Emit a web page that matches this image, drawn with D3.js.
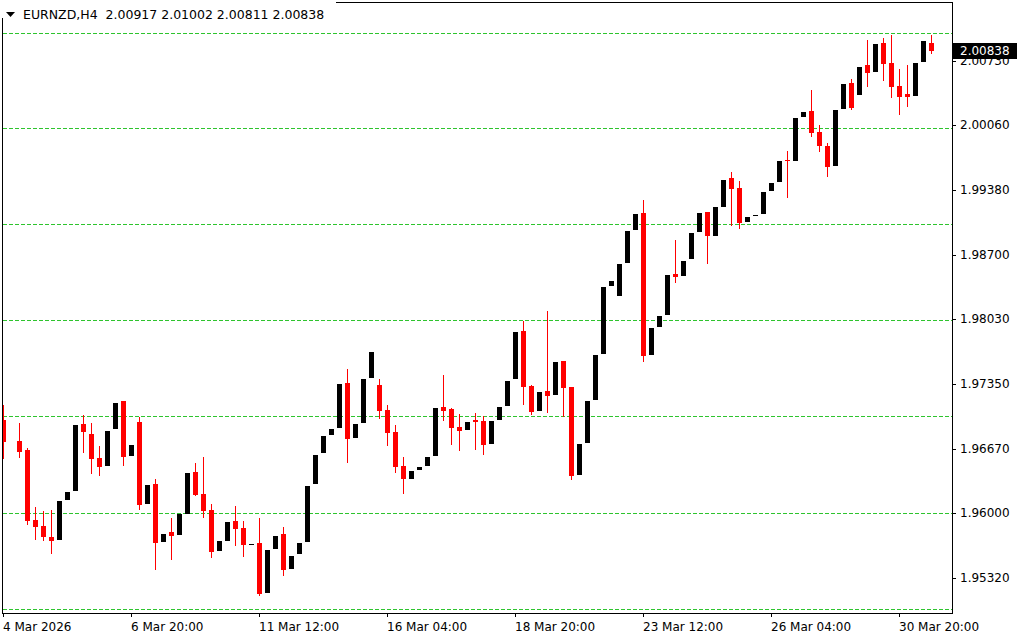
<!DOCTYPE html>
<html>
<head>
<meta charset="utf-8">
<script src="https://cdn.jsdelivr.net/npm/d3@7/dist/d3.min.js"></script>
<style>
  html, body { margin: 0; padding: 0; background: #ffffff; }
  svg { display: block; }
  text { font-family: "DejaVu Sans", Verdana, sans-serif; font-size: 12px; fill: #000; }
</style>
</head>
<body>
<svg id="chart" width="1024" height="640"></svg>
<script>
// ---- data (EURNZD H4), bar index 0..116, null = no bar ----
const opens = [1.96971,null,1.96751,1.96657,1.95924,1.95861,1.95746,1.95717,1.96136,1.96231,
1.96929,1.96824,1.96576,1.96492,1.96880,1.97170,1.96597,1.96950,1.96094,1.96301,
1.95696,1.95798,1.95770,1.95990,1.96426,1.96196,1.96028,1.95602,1.95707,1.95913,
1.95840,1.95665,1.95683,1.95162,1.95623,1.95777,1.95414,1.95571,1.95696,1.96304,
1.96629,1.96817,1.96890,1.97359,1.96786,1.96943,1.97414,1.97338,1.97076,1.96845,
1.96489,1.96356,1.96450,1.96489,1.96597,1.97107,1.97086,1.96898,1.96870,1.96971,
1.96961,1.96723,1.96974,1.97121,1.97404,1.97903,1.97327,1.97069,1.97275,1.97236,
1.97589,1.97317,1.96398,1.96733,1.97184,1.97666,1.98378,1.98273,1.98619,1.98965,
1.99139,1.97655,1.97948,1.98074,1.98500,1.98483,1.98661,1.98944,1.99150,1.98902,
1.99205,1.99506,1.99401,1.99048,1.99110,1.99132,1.99373,1.99467,1.99695,1.99687,
2.00148,2.00208,1.99988,1.99841,1.99635,2.00232,2.00501,2.00379,2.00690,2.00620,
2.00920,2.00711,2.00470,2.00386,2.00368,2.00724,2.00917];
const highs = [1.97128,null,1.96940,1.96675,1.96060,1.96018,1.96028,1.96123,1.96217,1.96919,
1.97023,1.96940,1.96699,1.96856,1.97149,1.97170,1.96709,1.97003,1.96290,1.96353,
1.95777,1.95945,1.95986,1.96416,1.96521,1.96587,1.96091,1.95704,1.95903,1.96070,
1.95916,1.95672,1.95945,1.95609,1.95756,1.95850,1.95547,1.95683,1.96280,1.96605,
1.96804,1.96877,1.97348,1.97505,1.96929,1.97401,1.97683,1.97401,1.97128,1.96919,
1.96587,1.96437,1.96479,1.96584,1.97097,1.97442,1.97097,1.97034,1.96950,1.97044,
1.97013,1.96961,1.97107,1.97380,1.97893,1.98008,1.97338,1.97264,1.98113,1.97579,
1.97589,1.97317,1.96720,1.97170,1.97652,1.98364,1.98427,1.98605,1.98951,1.99129,
1.99276,1.97935,1.98061,1.98490,1.98857,1.98637,1.98930,1.99139,1.99150,1.99202,
1.99485,1.99569,1.99475,1.99098,1.99117,1.99359,1.99454,1.99684,1.99789,2.00135,
2.00197,2.00428,2.00061,1.99873,2.00218,2.00491,2.00543,2.00669,2.00952,2.00910,
2.00973,2.01004,2.00648,2.00690,2.00711,2.00941,2.01002];
const lows = [1.96570,null,1.96587,1.95882,1.95725,1.95714,1.95581,1.95717,1.96136,1.96231,
1.96639,1.96419,1.96398,1.96492,1.96880,1.96503,1.96597,1.96042,1.96094,1.95414,
1.95696,1.95518,1.95770,1.95990,1.96189,1.95958,1.95539,1.95602,1.95707,1.95665,
1.95550,1.95665,1.95138,1.95162,1.95623,1.95351,1.95414,1.95571,1.95696,1.96304,
1.96629,1.96817,1.96890,1.96534,1.96786,1.96943,1.97414,1.96995,1.96712,1.96430,
1.96210,1.96356,1.96450,1.96489,1.96597,1.96968,1.96723,1.96660,1.96870,1.96671,
1.96618,1.96723,1.96974,1.97121,1.97404,1.97142,1.97037,1.97069,1.97058,1.97236,
1.97016,1.96356,1.96398,1.96733,1.97184,1.97666,1.98378,1.98273,1.98619,1.98965,
1.97592,1.97655,1.97948,1.98074,1.98420,1.98483,1.98661,1.98944,1.98619,1.98902,
1.99205,1.99017,1.98985,1.99048,1.99110,1.99132,1.99373,1.99467,1.99310,1.99687,
2.00148,1.99949,1.99792,1.99530,1.99635,2.00232,2.00232,2.00379,2.00473,2.00620,
2.00536,2.00358,2.00180,2.00263,2.00368,2.00724,2.00811];
const closes = [1.96744,null,1.96639,1.95916,1.95853,1.95749,1.95707,1.96123,1.96217,1.96919,
1.96849,1.96566,1.96482,1.96856,1.97149,1.96587,1.96709,1.96084,1.96290,1.95686,
1.95777,1.95759,1.95986,1.96416,1.96189,1.96015,1.95592,1.95704,1.95903,1.95832,
1.95665,1.95672,1.95152,1.95609,1.95756,1.95403,1.95547,1.95683,1.96280,1.96605,
1.96804,1.96877,1.97348,1.96775,1.96929,1.97401,1.97683,1.97069,1.96838,1.96482,
1.96356,1.96437,1.96479,1.96584,1.97097,1.97069,1.96890,1.96859,1.96950,1.96953,
1.96712,1.96961,1.97107,1.97380,1.97893,1.97320,1.97058,1.97264,1.97226,1.97579,
1.97309,1.96388,1.96720,1.97170,1.97652,1.98364,1.98427,1.98605,1.98951,1.99129,
1.97645,1.97935,1.98061,1.98490,1.98472,1.98637,1.98930,1.99139,1.98902,1.99202,
1.99485,1.99394,1.99038,1.99098,1.99117,1.99359,1.99454,1.99684,1.99684,2.00135,
2.00197,1.99981,1.99844,1.99624,2.00218,2.00491,2.00242,2.00669,2.00609,2.00910,
2.00703,2.00462,2.00358,2.00358,2.00711,2.00941,2.00838];

const priceTicks = [2.00730, 2.00060, 1.99380, 1.98700, 1.98030, 1.97350, 1.96670, 1.96000, 1.95320];
const gridPrices = [2.01025, 2.00030, 1.99024, 1.98019, 1.97008, 1.95997, 1.94991];
const timeTickIndex = [0, 16, 32, 48, 64, 80, 96, 112];
const timeTickLabels = ["4 Mar 2026", "6 Mar 20:00", "11 Mar 12:00", "16 Mar 04:00",
                        "18 Mar 20:00", "23 Mar 12:00", "26 Mar 04:00", "30 Mar 20:00"];
const symbolLabel = "EURNZD,H4";
const lastBar = [2.00917, 2.01002, 2.00811, 2.00838]; // O H L C
const lastPrice = 2.00838;

// ---- layout ----
const W = 1024, H = 640;
const plot = { left: 2, top: 2, right: 952, bottom: 613 };

const svg = d3.select("#chart");
svg.append("rect").attr("width", W).attr("height", H).attr("fill", "#fff");

const x = d3.scaleLinear().domain([0, opens.length - 1]).range([3, 931]);
const y = d3.scaleLinear().domain([1.949496, 2.013706]).range([plot.bottom, 0]);

const bars = opens.map((o, i) => ({ i, o, h: highs[i], l: lows[i], c: closes[i] }))
                  .filter(d => d.o !== null);

svg.append("clipPath").attr("id", "clip")
  .append("rect").attr("x", plot.left).attr("y", plot.top)
  .attr("width", plot.right - plot.left).attr("height", plot.bottom - plot.top);

// grid
svg.append("g").selectAll("line").data(gridPrices).join("line")
  .attr("x1", plot.left + 1).attr("x2", plot.right)
  .attr("y1", d => Math.round(y(d)) + 0.5).attr("y2", d => Math.round(y(d)) + 0.5)
  .attr("stroke", "#2ec42e").attr("stroke-width", 1).attr("stroke-dasharray", "4,2");

// candles
const gC = svg.append("g").attr("clip-path", "url(#clip)");
const bull = d => d.c >= d.o;
gC.selectAll("rect.wick").data(bars).join("rect").attr("class", "wick")
  .attr("x", d => Math.round(x(d.i)))
  .attr("width", 1)
  .attr("y", d => Math.round(y(d.h)))
  .attr("height", d => Math.max(1, Math.round(y(d.l)) - Math.round(y(d.h)) + 1))
  .attr("fill", d => bull(d) ? "#ffffff" : "#ff0000");
gC.selectAll("rect.body").data(bars).join("rect").attr("class", "body")
  .attr("x", d => Math.round(x(d.i)) - 2)
  .attr("width", 5)
  .attr("y", d => Math.round(y(Math.max(d.o, d.c))))
  .attr("height", d => Math.max(1, Math.round(y(Math.min(d.o, d.c))) - Math.round(y(Math.max(d.o, d.c)))))
  .attr("fill", d => bull(d) ? "#000000" : "#ff0000");

// frame
const frame = svg.append("g").attr("stroke", "#000").attr("stroke-width", 1).attr("fill", "none");
frame.append("rect")
  .attr("x", plot.left + 0.5).attr("y", plot.top + 0.5)
  .attr("width", plot.right - plot.left).attr("height", plot.bottom - plot.top);

// right price axis
const yAxis = svg.append("g");
yAxis.selectAll("line").data(priceTicks).join("line")
  .attr("x1", plot.right + 1).attr("x2", plot.right + 4)
  .attr("y1", d => Math.round(y(d)) + 0.5).attr("y2", d => Math.round(y(d)) + 0.5)
  .attr("stroke", "#000");
yAxis.selectAll("text").data(priceTicks).join("text")
  .attr("x", 960).attr("y", d => y(d)).attr("dy", "0.36em")
  .text(d => d.toFixed(5));

// current price box
const py = y(lastPrice);
svg.append("rect").attr("x", plot.right + 1).attr("y", Math.round(py) - 8)
  .attr("width", 64).attr("height", 16).attr("fill", "#000");
svg.append("text").attr("x", 960).attr("y", py).attr("dy", "0.36em")
  .style("fill", "#fff").text(lastPrice.toFixed(5));

// bottom time axis
const xAxis = svg.append("g");
xAxis.selectAll("line").data(timeTickIndex).join("line")
  .attr("x1", d => Math.round(x(d)) + 0.5).attr("x2", d => Math.round(x(d)) + 0.5)
  .attr("y1", plot.bottom + 1).attr("y2", plot.bottom + 4)
  .attr("stroke", "#000");
xAxis.selectAll("text").data(timeTickIndex).join("text")
  .attr("x", d => Math.round(x(d)))
  .attr("y", 631)
  .text((d, k) => timeTickLabels[k]);

// title
svg.append("rect").attr("x", 0).attr("y", 0).attr("width", 336).attr("height", 18).attr("fill", "#fff");
svg.append("path").attr("d", "M6,12 L15,12 L10.5,17 Z").attr("fill", "#000");
svg.append("text").attr("x", 23).attr("y", 19)
  .style("white-space", "pre").style("font-size", "12.5px")
  .text(symbolLabel + "  " + lastBar.map(v => v.toFixed(5)).join(" "));
</script>
</body>
</html>
